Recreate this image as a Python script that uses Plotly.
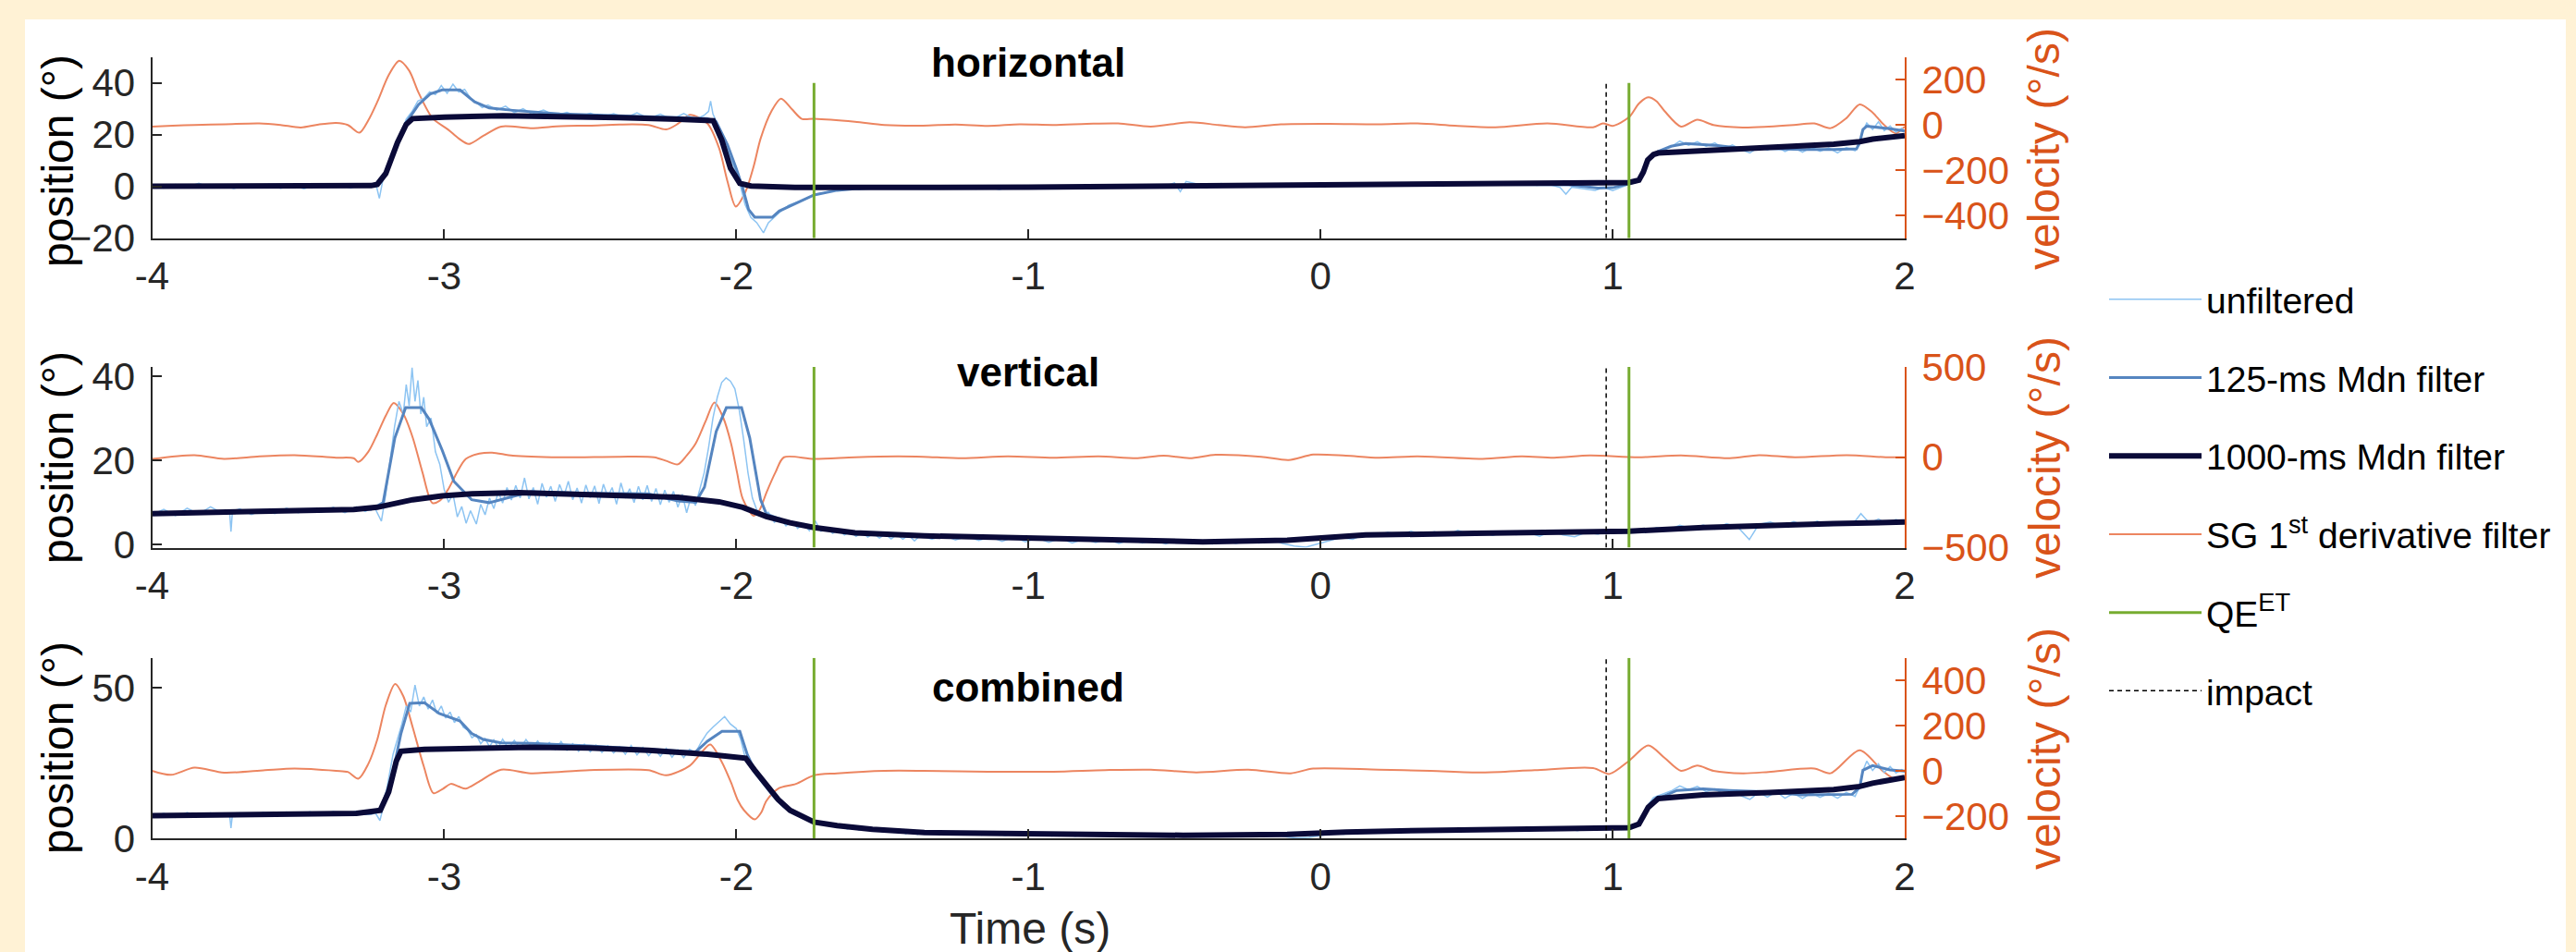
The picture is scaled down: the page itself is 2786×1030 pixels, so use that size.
import plotly.graph_objects as go

# ---------------- data ----------------
time_ticks = [-4, -3, -2, -1, 0, 1, 2]
qe_times = [-1.734, 1.056]
impact_time = 0.978

# ---- horizontal panel ----
hor_t_raw = [-4.00, -3.96, -3.92, -3.88, -3.84, -3.80, -3.76, -3.72, -3.68, -3.64, -3.60, -3.56, -3.52, -3.48, -3.44, -3.40,
             -3.36, -3.32, -3.28, -3.25, -3.235, -3.222, -3.21, -3.19, -3.17, -3.15, -3.13, -3.11, -3.09, -3.07, -3.05, -3.03,
             -3.01, -2.99, -2.97, -2.95, -2.93, -2.91, -2.89, -2.87, -2.85, -2.82, -2.79, -2.76, -2.73, -2.70, -2.66, -2.62,
             -2.58, -2.54, -2.50, -2.46, -2.42, -2.38, -2.34, -2.30, -2.26, -2.22, -2.18, -2.14, -2.11, -2.095, -2.088, -2.08,
             -2.07, -2.05, -2.03, -2.01, -1.99, -1.97, -1.95, -1.93, -1.907, -1.89, -1.87, -1.85, -1.82, -1.79, -1.76, -1.73,
             -1.70, -1.66, -1.62, -1.58, -1.54, -1.50, -1.46, -1.42, -1.38, -1.34, -1.30, -1.26, -1.22, -1.18, -1.14, -1.10,
             -1.06, -1.02, -0.98, -0.94, -0.90, -0.86, -0.82, -0.78, -0.74, -0.70, -0.66, -0.62, -0.58, -0.54, -0.50, -0.48,
             -0.46, -0.42, -0.38, -0.34, -0.30, -0.26, -0.22, -0.18, -0.14, -0.10, -0.06, -0.02, 0.02, 0.06, 0.10, 0.14,
             0.18, 0.22, 0.26, 0.30, 0.34, 0.38, 0.42, 0.46, 0.50, 0.54, 0.58, 0.62, 0.66, 0.70, 0.74, 0.78,
             0.82, 0.84, 0.86, 0.90, 0.94, 0.97, 1.00, 1.03, 1.056, 1.08, 1.10, 1.12, 1.14, 1.17, 1.20, 1.23,
             1.26, 1.29, 1.32, 1.35, 1.38, 1.41, 1.44, 1.47, 1.50, 1.53, 1.56, 1.59, 1.62, 1.65, 1.68, 1.71,
             1.74, 1.77, 1.80, 1.83, 1.845, 1.855, 1.87, 1.89, 1.91, 1.93, 1.95, 1.97, 1.99, 2.00]
hor_raw = [0.2, -0.6, 0.8, -0.3, 1.2, -0.5, 0.4, -0.8, 0.6, -0.2, 0.9, -0.7, 0.3, -0.9, 0.5, -0.4,
           0.7, -0.6, 1.0, -0.2, 1.5, -4.6, 2.5, 8, 14, 20, 26, 29, 33, 34, 36.5, 35.5,
           39, 36, 39.5, 36.5, 37.5, 34, 32.5, 30.5, 31.5, 29.5, 31, 28.5, 30, 28, 29.5, 27.3,
           28.6, 26.9, 28.3, 26.8, 28.1, 26.5, 28.4, 26.3, 27.9, 25.9, 28.2, 25.8, 27.5, 29, 33, 28,
           25.5, 19, 14, 8, 2, -7, -12, -14, -17.9, -14, -12, -9.8, -7.2, -6.0, -4.8, -3.0,
           -2.4, -1.3, -0.2, -1.2, 0.1, -0.9, -0.1, -0.8, 0.2, -0.9, 0.0, -0.6, 0.3, -1.0, -0.2, -1.2,
           -0.1, -0.8, 0.1, -0.9, 0.0, -0.7, 0.2, -0.5, 0.4, -0.4, 0.3, -0.3, 0.5, -0.2, 1.4, -2.0,
           1.9, 0.9, 0.2, 1.1, 0.1, 0.9, -0.1, 1.0, 0.2, 1.1, 0.3, 1.0, 0.4, 1.2, 0.3, 1.1,
           0.4, 1.3, 0.5, 1.4, 0.5, 1.2, 0.4, 1.3, 0.6, 1.4, 0.5, 1.3, 0.6, 1.2, 0.4, 0.9,
           -0.4, -3.0, -0.3, -0.9, -1.5, -0.4, -1.6, -0.3, 0.8, 1.5, 4.5, 10, 12.5, 14.2, 15.3, 17.5,
           15.9, 17.3, 15.5, 16.8, 14.6, 16.0, 14.2, 13.0, 15.2, 14.0, 15.6, 13.5, 15.0, 13.2, 15.1, 13.6,
           14.9, 13.0, 15.0, 13.8, 16, 21, 24.5, 22, 25, 21.5, 23.4, 21, 22.5, 21.2]

hor_t_mdn125 = [-4.0, -3.5, -3.25, -3.229, -3.2, -3.16, -3.128, -3.088, -3.047, -3.007, -2.946, -2.925, -2.896, -2.846,
                -2.765, -2.604, -2.4, -2.2, -2.1, -2.069, -2.03, -2.0, -1.978, -1.958, -1.937, -1.877, -1.853, -1.796,
                -1.734, -1.655, -1.594, -1.5, -1.36, -1.0, -0.5, 0.0, 0.5, 0.85, 0.95, 1.0, 1.056, 1.09, 1.105, 1.12,
                1.14, 1.156, 1.2, 1.25, 1.31, 1.36, 1.42, 1.534, 1.65, 1.757, 1.835, 1.846, 1.857, 1.87, 1.9, 1.95, 2.0]
hor_mdn125 = [0.1, 0.0, 0.3, 0.8, 5, 17, 25, 31.6, 35.8, 37.3, 37.3, 35.5, 32.7, 30.3,
              29.4, 28.0, 27.4, 26.6, 26.2, 25.0, 16, 6.9, -0.6, -8.9, -11.9, -11.9, -9.5, -6.5,
              -3.3, -1.5, -0.9, -0.5, -0.4, -0.3, 0.1, 0.6, 0.9, 0.6, -0.6, -0.5, 1.0, 2.4, 5.5, 10.2,
              12.3, 13.5, 15.5, 16.6, 16.3, 15.8, 15.0, 14.6, 14.3, 14.3, 14.5, 17, 22, 23.3, 23.0, 22.3, 21.4]

hor_t_mdn1000 = [-4.0, -3.5, -3.25, -3.229, -3.2, -3.16, -3.13, -3.108, -3.0, -2.8, -2.6, -2.4, -2.2, -2.079, -2.05,
                 -2.02, -1.988, -1.95, -1.8, -1.6, -1.36, -1.0, -0.5, 0.0, 0.5, 0.978, 1.056, 1.09, 1.105, 1.12, 1.14,
                 1.156, 1.31, 1.534, 1.757, 1.846, 1.89, 2.0]
hor_mdn1000 = [0.1, 0.0, 0.3, 0.8, 5, 17, 24, 26.2, 26.8, 27.3, 27.2, 26.6, 26.0, 25.4, 18,
               7, 1.2, 0.2, -0.4, -0.6, -0.4, -0.3, 0.1, 0.6, 0.9, 1.1, 1.5, 2.4, 5.5, 10.2, 12.3,
               12.9, 13.7, 15.1, 16.3, 17.3, 18.3, 19.6]

hor_t_vel = [-4.0, -3.93, -3.855, -3.75, -3.633, -3.56, -3.491, -3.43, -3.37, -3.33, -3.29, -3.26, -3.229, -3.19, -3.154,
             -3.12, -3.088, -3.04, -2.987, -2.95, -2.916, -2.866, -2.805, -2.704, -2.6, -2.503, -2.4, -2.301, -2.24, -2.2,
             -2.159, -2.099, -2.059, -2.03, -2.002, -1.968, -1.94, -1.917, -1.88, -1.847, -1.81, -1.776, -1.734, -1.594,
             -1.493, -1.361, -1.25, -1.138, -1.03, -0.915, -0.8, -0.693, -0.581, -0.448, -0.35, -0.258, -0.136, 0.03,
             0.198, 0.332, 0.46, 0.599, 0.777, 0.933, 0.967, 1.0, 1.056, 1.09, 1.122, 1.15, 1.178, 1.234, 1.29, 1.345,
             1.445, 1.534, 1.62, 1.69, 1.746, 1.8, 1.846, 1.89, 1.924, 1.969, 2.0]
hor_vel = [-7, -3, 0, 3, 7, 0, -11, 2, 9, 0, -34, 20, 102, 220, 283,
           240, 143, 30, -20, -60, -84, -48, -7, -14, -5, -3, 2, 0, -20, 5,
           45, 7, -102, -250, -360, -293, -180, -61, 60, 116, 70, 27, 27, 14,
           0, -3, 2, -4, 3, 0, 5, 7, -7, 12, 0, -10, 3, 5,
           3, 7, -3, -10, 7, -10, 7, -4, 34, 95, 122, 105, 61, -7, 23, 0,
           -11, -7, 0, 7, -14, 30, 91, 55, 7, -37, -7]

# ---- vertical panel ----
ver_t_raw = [-4.00, -3.96, -3.92, -3.88, -3.84, -3.80, -3.76, -3.735, -3.73, -3.725, -3.70, -3.66, -3.62, -3.58, -3.54,
             -3.50, -3.46, -3.42, -3.38, -3.34, -3.30, -3.27, -3.24, -3.215, -3.20, -3.185, -3.17, -3.155, -3.14, -3.13,
             -3.12, -3.11, -3.10, -3.09, -3.08, -3.07, -3.06, -3.045, -3.03, -3.015, -3.00, -2.985, -2.97, -2.955, -2.94,
             -2.925, -2.91, -2.89, -2.875, -2.86, -2.845, -2.83, -2.815, -2.80, -2.785, -2.77, -2.755, -2.74, -2.725,
             -2.71, -2.695, -2.68, -2.665, -2.65, -2.635, -2.62, -2.605, -2.59, -2.575, -2.56, -2.545, -2.53, -2.515,
             -2.50, -2.485, -2.47, -2.455, -2.44, -2.425, -2.41, -2.395, -2.38, -2.365, -2.35, -2.335, -2.32, -2.305,
             -2.29, -2.275, -2.26, -2.245, -2.23, -2.215, -2.20, -2.185, -2.17, -2.155, -2.14, -2.125, -2.11, -2.095,
             -2.08, -2.065, -2.05, -2.035, -2.02, -2.005, -1.99, -1.975, -1.96, -1.945, -1.93, -1.91, -1.89, -1.87,
             -1.85, -1.83, -1.81, -1.79, -1.77, -1.75, -1.73, -1.71, -1.69, -1.67, -1.65, -1.63, -1.61, -1.59, -1.57,
             -1.55, -1.53, -1.51, -1.49, -1.47, -1.45, -1.43, -1.41, -1.39, -1.37, -1.33, -1.29, -1.25, -1.21, -1.17,
             -1.13, -1.09, -1.05, -1.01, -0.97, -0.93, -0.89, -0.85, -0.81, -0.77, -0.73, -0.69, -0.65, -0.61, -0.57,
             -0.53, -0.49, -0.45, -0.41, -0.37, -0.33, -0.29, -0.25, -0.21, -0.17, -0.13, -0.09, -0.05, -0.01, 0.03,
             0.07, 0.11, 0.15, 0.19, 0.23, 0.27, 0.31, 0.35, 0.39, 0.43, 0.47, 0.51, 0.55, 0.59, 0.63, 0.67, 0.71,
             0.75, 0.79, 0.83, 0.87, 0.91, 0.95, 0.99, 1.03, 1.07, 1.11, 1.15, 1.19, 1.23, 1.27, 1.31, 1.35, 1.39,
             1.43, 1.468, 1.50, 1.54, 1.58, 1.62, 1.66, 1.70, 1.74, 1.78, 1.82, 1.85, 1.88, 1.91, 1.94, 1.97, 2.00]
ver_raw = [7.0, 8.3, 6.8, 8.6, 7.2, 8.9, 7.4, 8.1, 3.0, 7.8, 8.4, 7.1, 8.2, 7.3, 8.6,
           7.5, 8.4, 7.6, 8.8, 7.5, 8.9, 7.8, 9.0, 5.5, 12, 20, 28, 34, 31, 38,
           33, 42, 34, 39, 31, 35, 28, 30, 22, 19, 13, 10, 12, 6.5, 9,
           5, 8, 4.8, 9.5, 7, 11, 8.5, 12.5, 9.8, 13.5, 10.5, 14, 11, 15.8,
           10.8, 13.5, 9.5, 14.5, 11.2, 13.8, 10.2, 14.2, 11.5, 15, 10.6, 13.4, 9.8, 14.1,
           11.1, 13.9, 9.7, 14.3, 11.3, 13.5, 9.5, 14.6, 11.0, 13.2, 9.9, 13.8, 10.6, 14.0,
           10.2, 13.3, 9.4, 12.9, 10.0, 12.6, 8.8, 11.9, 7.5, 11.3, 9.2, 13, 17, 23,
           30, 35, 38.5, 39.6, 38.8, 37, 32, 25, 17, 11, 8.2, 6.9, 7.6, 5.2,
           6.3, 4.4, 5.5, 3.8, 4.9, 3.2, 5.6, 3.1, 3.9, 2.6, 3.5, 2.2, 3.0, 1.9, 2.8,
           1.7, 2.6, 1.5, 2.4, 1.3, 2.3, 1.2, 2.2, 0.8, 2.1, 1.2, 2.2, 1.0, 1.9, 0.9,
           1.8, 0.7, 1.7, 0.6, 1.5, 0.5, 1.4, 0.3, 1.3, 0.4, 1.2, 0.2, 1.1, 0.3, 1.0,
           0.1, 1.1, 0.2, 0.9, 0.1, 1.0, 0.2, 0.8, 0.3, 1.2, 0.2, -0.4, -0.7, 0.1, 0.9,
           1.6, 1.2, 2.4, 2.0, 2.9, 2.2, 3.1, 2.3, 3.0, 2.1, 3.3, 2.4, 2.9, 2.1, 3.0, 2.3, 2.8,
           1.9, 3.1, 2.2, 1.8, 2.9, 2.4, 3.3, 2.6, 3.5, 2.8, 4.0, 3.4, 4.5, 3.7, 4.6, 3.6, 4.9,
           4.0, 1.1, 4.7, 5.3, 4.2, 5.4, 4.3, 5.5, 4.5, 5.2, 4.6, 7.3, 5.0, 6.0, 4.8, 5.9, 5.2]

ver_t_mdn125 = [-4.0, -3.512, -3.25, -3.209, -3.169, -3.132, -3.078, -3.051, -3.007, -2.967, -2.906, -2.846, -2.785,
                -2.704, -2.503, -2.301, -2.2, -2.139, -2.109, -2.069, -2.034, -1.982, -1.954, -1.917, -1.897, -1.816,
                -1.734, -1.594, -1.356, -1.0, -0.693, -0.403, -0.114, 0.154, 0.53, 0.866, 1.056, 1.31, 1.535, 1.757, 2.0]
ver_mdn125 = [7.3, 8.0, 8.3, 9.9, 25.3, 32.5, 32.5, 29.7, 22.4, 15, 10.6, 9.9, 11,
              12.5, 12.1, 12.0, 10.3, 10.0, 13.6, 26.8, 32.5, 32.5, 25.3, 10.6, 7.2, 5.1,
              4.0, 2.7, 2.0, 1.5, 0.95, 0.6, 0.9, 2.2, 2.6, 2.8, 3.1, 4.0, 4.6, 4.9, 5.4]

ver_t_mdn1000 = [-4.0, -3.713, -3.512, -3.31, -3.229, -3.108, -3.007, -2.906, -2.745, -2.604, -2.402, -2.2, -2.059,
                 -1.978, -1.897, -1.816, -1.734, -1.594, -1.356, -1.0, -0.693, -0.403, -0.114, 0.154, 0.53, 0.866,
                 1.056, 1.31, 1.535, 1.757, 2.0]
ver_mdn1000 = [7.3, 7.7, 8.0, 8.3, 8.8, 10.6, 11.5, 12.0, 12.3, 12.0, 11.7, 11.2, 10.1,
               8.8, 6.6, 5.1, 4.0, 2.7, 2.0, 1.5, 0.95, 0.6, 0.95, 2.2, 2.6, 2.8,
               3.1, 4.0, 4.6, 4.9, 5.3]

ver_t_vel = [-4.0, -3.855, -3.754, -3.633, -3.512, -3.37, -3.31, -3.294, -3.26, -3.229, -3.2, -3.173, -3.14, -3.108,
             -3.075, -3.041, -3.015, -2.987, -2.955, -2.926, -2.88, -2.836, -2.765, -2.603, -2.402, -2.281, -2.24,
             -2.2, -2.17, -2.139, -2.105, -2.075, -2.045, -2.018, -1.998, -1.978, -1.941, -1.92, -1.897, -1.865,
             -1.837, -1.734, -1.594, -1.45, -1.36, -1.227, -1.071, -0.915, -0.759, -0.626, -0.537, -0.448, -0.359,
             -0.203, -0.109, -0.025, 0.087, 0.198, 0.332, 0.555, 0.688, 0.8, 0.922, 1.089, 1.234, 1.401, 1.501,
             1.624, 1.802, 1.935, 2.0]
ver_vel = [-9, 12, -9, 5, 12, -2, -5, -26, 30, 128, 230, 301, 240, 110,
           -80, -252, -240, -179, -80, -9, 20, 26, 9, 0, 3, 0, -20,
           -39, 10, 77, 200, 303, 220, 77, -80, -230, -323, -290, -196, -80,
           0, -9, 0, 5, 3, -5, 5, -2, 5, -5, 9, -5, 14,
           3, -15, 15, 9, -2, 5, -9, 5, -2, 10, 0, 10, -5, 12,
           0, 12, 0, 0]

# ---- combined panel ----
com_t_raw = [-4.00, -3.96, -3.92, -3.88, -3.84, -3.80, -3.76, -3.735, -3.73, -3.725, -3.70, -3.66, -3.62, -3.58, -3.54,
             -3.50, -3.46, -3.42, -3.38, -3.34, -3.30, -3.27, -3.24, -3.22, -3.205, -3.19, -3.175, -3.16, -3.145, -3.13,
             -3.115, -3.10, -3.085, -3.07, -3.055, -3.04, -3.025, -3.01, -2.995, -2.98, -2.965, -2.95, -2.935, -2.92,
             -2.905, -2.89, -2.875, -2.86, -2.845, -2.83, -2.815, -2.80, -2.78, -2.76, -2.74, -2.72, -2.70, -2.68,
             -2.66, -2.64, -2.62, -2.60, -2.58, -2.56, -2.54, -2.52, -2.50, -2.48, -2.46, -2.44, -2.42, -2.40, -2.38,
             -2.36, -2.34, -2.32, -2.30, -2.28, -2.26, -2.24, -2.22, -2.20, -2.18, -2.16, -2.14, -2.12, -2.10, -2.08,
             -2.06, -2.04, -2.02, -2.00, -1.985, -1.97, -1.955, -1.94, -1.92, -1.90, -1.88, -1.86, -1.84, -1.82, -1.80,
             -1.78, -1.76, -1.74, -1.72, -1.70, -1.68, -1.66, -1.64, -1.62, -1.60, -1.58, -1.56, -1.54, -1.52, -1.50,
             -1.48, -1.46, -1.44, -1.42, -1.40, -1.38, -1.36, -1.32, -1.28, -1.24, -1.20, -1.16, -1.12, -1.08, -1.04,
             -1.00, -0.96, -0.92, -0.88, -0.84, -0.80, -0.76, -0.72, -0.68, -0.64, -0.60, -0.56, -0.52, -0.48, -0.44,
             -0.40, -0.36, -0.32, -0.28, -0.24, -0.20, -0.16, -0.12, -0.08, -0.04, 0.00, 0.04, 0.08, 0.12, 0.16, 0.20,
             0.24, 0.28, 0.32, 0.36, 0.40, 0.44, 0.48, 0.52, 0.56, 0.60, 0.64, 0.68, 0.72, 0.76, 0.80, 0.84, 0.88,
             0.92, 0.96, 1.00, 1.03, 1.056, 1.08, 1.10, 1.12, 1.14, 1.17, 1.20, 1.23, 1.26, 1.29, 1.32, 1.35, 1.38,
             1.41, 1.44, 1.47, 1.50, 1.53, 1.56, 1.59, 1.62, 1.65, 1.68, 1.71, 1.74, 1.77, 1.80, 1.83, 1.845, 1.855,
             1.87, 1.89, 1.91, 1.93, 1.95, 1.97, 1.99, 2.00]
com_raw = [7.2, 8.4, 7.0, 8.7, 7.3, 8.5, 7.5, 8.2, 3.5, 7.9, 8.5, 7.4, 8.7, 7.6, 8.8,
           7.7, 8.9, 7.8, 9.0, 7.9, 9.1, 8.0, 9.2, 6.0, 12, 20, 28, 33, 38, 44,
           42, 51, 44, 47, 43, 46, 41.5, 44, 40, 42, 38.5, 40.5, 37, 36,
           33.5, 34.5, 31.5, 33.2, 30.5, 32.8, 30.2, 33.0, 30.0, 32.6, 29.9, 32.9, 30.2, 32.4,
           29.8, 31.9, 29.5, 32.2, 29.3, 31.5, 29.0, 31.3, 28.8, 31.0, 28.6, 30.8, 28.4, 30.5, 28.0,
           30.9, 27.8, 30.2, 27.5, 29.8, 27.3, 30.0, 27.0, 29.5, 26.9, 29.6, 28.5, 32, 35, 37,
           38.8, 40.5, 38, 36.5, 33, 27, 24.5, 22, 19.5, 17, 14.5, 12.5, 10.5, 9.2, 8.0,
           7.1, 6.4, 5.6, 5.2, 4.6, 4.5, 3.8, 4.2, 3.2, 3.9, 2.8, 3.5, 2.6, 3.3, 2.3,
           3.1, 2.1, 3.0, 1.6, 2.7, 1.4, 2.6, 1.5, 2.4, 1.3, 2.2, 1.2, 2.1, 1.0, 2.0,
           1.1, 1.9, 0.9, 1.8, 0.8, 1.7, 0.9, 1.6, 0.8, 1.7, 0.7, 1.5, 0.8, 1.4, 0.6,
           1.5, 0.7, 1.3, 0.8, 1.5, 0.9, 1.4, 0.6, 0.2, 0.4, 1.0, 1.8, 1.5, 2.5, 2.0, 2.8,
           2.3, 3.0, 2.4, 3.2, 2.6, 3.3, 2.5, 3.1, 2.7, 3.4, 2.6, 3.2, 2.5, 3.5, 2.7, 3.3, 2.6,
           3.6, 2.9, 3.8, 3.0, 3.9, 4.6, 7.5, 11, 13.6, 14.8, 15.8, 17.5, 16.2, 17.3, 15.6, 16.5, 14.7,
           16.0, 14.2, 13.0, 15.3, 13.8, 15.6, 13.4, 15.0, 13.3, 15.2, 13.7, 15.0, 13.4, 15.3, 14.0, 17, 22,
           25.7, 22.6, 24.8, 22.0, 23.9, 21.8, 22.9, 22.0]

com_t_mdn125 = [-4.0, -3.5, -3.25, -3.219, -3.18, -3.148, -3.118, -3.068, -3.017, -2.946, -2.906, -2.866, -2.805,
                -2.704, -2.503, -2.301, -2.139, -2.099, -2.049, -1.988, -1.962, -1.937, -1.897, -1.857, -1.816, -1.734,
                -1.655, -1.534, -1.356, -1.0, -0.47, -0.114, 0.087, 0.42, 0.866, 1.056, 1.09, 1.122, 1.156, 1.22, 1.31,
                1.4, 1.535, 1.646, 1.82, 1.846, 1.857, 1.89, 1.95, 2.0]
com_mdn125 = [7.6, 8.0, 8.3, 9.4, 20, 34.9, 44.9, 45.1, 41.5, 39, 34.9, 32.9, 31.8,
              31.6, 30.8, 29.6, 28.8, 32.3, 35.6, 35.6, 27.8, 22.7, 17.6, 13, 9.4, 5.5,
              4.3, 3.1, 2.0, 1.5, 1.1, 1.4, 2.2, 2.8, 3.2, 3.6, 4.8, 10.4, 13.3, 16.0, 16.5,
              16.0, 15.5, 14.5, 14.7, 17, 22.7, 24.2, 22.8, 22.4]

com_t_mdn1000 = [-4.0, -3.5, -3.3, -3.219, -3.19, -3.164, -3.148, -3.068, -2.906, -2.704, -2.503, -2.301, -2.099,
                 -1.968, -1.937, -1.897, -1.857, -1.816, -1.734, -1.655, -1.534, -1.356, -1.0, -0.47, -0.114, 0.087,
                 0.42, 0.866, 1.056, 1.09, 1.122, 1.156, 1.31, 1.535, 1.757, 1.846, 1.89, 2.0]
com_mdn1000 = [7.6, 8.0, 8.4, 9.4, 15.5, 25.7, 29.0, 29.6, 30.1, 30.3, 30.1, 29.3, 28.0,
               26.7, 22.7, 17.6, 13.0, 9.4, 5.5, 4.3, 3.1, 2.0, 1.5, 1.1, 1.4, 2.2,
               2.8, 3.2, 3.6, 4.8, 10.4, 13.3, 14.5, 15.3, 16.3, 17.3, 18.4, 20.3]

com_t_vel = [-4.0, -3.935, -3.855, -3.754, -3.613, -3.512, -3.37, -3.33, -3.294, -3.26, -3.229, -3.2, -3.168, -3.14,
             -3.108, -3.07, -3.037, -3.005, -2.977, -2.95, -2.926, -2.886, -2.805, -2.704, -2.503, -2.301, -2.24,
             -2.159, -2.12, -2.089, -2.05, -2.018, -1.995, -1.974, -1.937, -1.915, -1.897, -1.857, -1.796, -1.734,
             -1.655, -1.493, -1.361, -1.138, -0.915, -0.737, -0.581, -0.425, -0.247, -0.102, -0.025, 0.198, 0.376,
             0.555, 0.733, 0.933, 0.989, 1.056, 1.122, 1.178, 1.234, 1.29, 1.345, 1.445, 1.534, 1.69, 1.746, 1.846,
             1.924, 1.969, 2.0]
com_vel = [0, -18, 14, -8, 3, 10, 0, -5, -35, 30, 139, 290, 384, 330,
           193, 20, -99, -80, -58, -70, -79, -52, 5, -11, 3, 3, -20,
           23, 80, 116, 40, -52, -130, -174, -215, -185, -133, -79, -58, -20,
           -11, 0, 0, -4, -4, 3, 5, -7, 5, -11, 10, 5, 0,
           -7, 3, 12, -14, 44, 112, 57, 0, 23, 0, -11, -5, 10, -11, 91,
           0, -38, -24]

# axis settings per panel
panel_names = ["horizontal", "vertical", "combined"]
pos_ranges = [[-20, 50], [-0.8, 42.2], [0, 60]]
vel_ranges = [[-500, 300], [-500, 500], [-300, 500]]
pos_ticks = [[-20, 0, 20, 40], [0, 20, 40], [0, 50]]
vel_ticks = [[-400, -200, 0, 200], [-500, 0, 500], [-200, 0, 200, 400]]
marker_tops = [40, 42.2, 60]
marker_bottoms = [-20, -0.8, 0]

# ---------------- styling ----------------
W, H = 2786, 1030
CREAM = "#FFF2D5"
ORANGE_AX = "#D95319"
C_RAW = "#8DC4F2"
C_125 = "#5585C0"
C_1000 = "#0A0A38"
C_SG = "#EC8560"
C_QE = "#77AC30"
AXC = "#262626"
FONT = "Liberation Sans, Arial, sans-serif"

def px_x(p):
    return p / W

def px_y(p):
    return 1 - p / H

x_dom = [px_x(164.5), px_x(2060)]
y_doms = [[px_y(257.7), px_y(61.7)], [px_y(592.5), px_y(397)], [px_y(907.3), px_y(711.7)]]

panels = [
    (hor_t_raw, hor_raw, hor_t_mdn125, hor_mdn125, hor_t_mdn1000, hor_mdn1000, hor_t_vel, hor_vel),
    (ver_t_raw, ver_raw, ver_t_mdn125, ver_mdn125, ver_t_mdn1000, ver_mdn1000, ver_t_vel, ver_vel),
    (com_t_raw, com_raw, com_t_mdn125, com_mdn125, com_t_mdn1000, com_mdn1000, com_t_vel, com_vel),
]

fig = go.Figure()
layout = {}
for i, (tr, r, t125, m125, t1000, m1000, tv, vel) in enumerate(panels):
    xn = "x" if i == 0 else f"x{i + 1}"
    yv = "y" if i == 0 else f"y{2 * i + 1}"   # velocity (base, right)
    yp = f"y{2 * i + 2}"                     # position (overlay, left)
    first = i == 0
    fig.add_trace(go.Scatter(x=tv, y=vel, mode="lines", xaxis=xn, yaxis=yv,
                             line=dict(color=C_SG, width=2, shape="spline", smoothing=0.8),
                             name="SG 1<sup>st</sup> derivative filter", legendgroup="g4", legendrank=4,
                             showlegend=first, hoverinfo="skip"))
    fig.add_trace(go.Scatter(x=tr, y=r, mode="lines", xaxis=xn, yaxis=yp,
                             line=dict(color=C_RAW, width=1.5), name="unfiltered", legendgroup="g1",
                             legendrank=1, showlegend=first, hoverinfo="skip"))
    fig.add_trace(go.Scatter(x=t125, y=m125, mode="lines", xaxis=xn, yaxis=yp,
                             line=dict(color=C_125, width=3), name="125-ms Mdn filter", legendgroup="g2",
                             legendrank=2, showlegend=first, hoverinfo="skip"))
    fig.add_trace(go.Scatter(x=t1000, y=m1000, mode="lines", xaxis=xn, yaxis=yp,
                             line=dict(color=C_1000, width=6), name="1000-ms Mdn filter", legendgroup="g3",
                             legendrank=3, showlegend=first, hoverinfo="skip"))
    fig.add_trace(go.Scatter(x=[impact_time, impact_time], y=[marker_bottoms[i], marker_tops[i]], mode="lines",
                             xaxis=xn, yaxis=yp, line=dict(color="black", width=1.5, dash="5px,4px"),
                             name="impact", legendgroup="g6", legendrank=6, showlegend=first, hoverinfo="skip"))
    for k, q in enumerate(qe_times):
        fig.add_trace(go.Scatter(x=[q, q], y=[marker_bottoms[i], marker_tops[i]], mode="lines",
                                 xaxis=xn, yaxis=yp, line=dict(color=C_QE, width=3),
                                 name="QE<sup>ET</sup>", legendgroup="g5", legendrank=5,
                                 showlegend=first and k == 0, hoverinfo="skip"))

    xkey = "xaxis" if i == 0 else f"xaxis{i + 1}"
    yvkey = "yaxis" if i == 0 else f"yaxis{2 * i + 1}"
    ypkey = f"yaxis{2 * i + 2}"
    layout[xkey] = dict(domain=x_dom, range=[-4, 2], anchor=yv, tickmode="array", tickvals=time_ticks,
                        ticktext=[str(v) for v in time_ticks], ticks="inside", ticklen=10, tickwidth=1.5,
                        tickcolor=AXC, showline=True, linecolor=AXC, linewidth=2, showgrid=False,
                        zeroline=False, tickfont=dict(family=FONT, size=42, color=AXC), ticklabelstandoff=3,
                        automargin=False)
    layout[yvkey] = dict(domain=y_doms[i], range=vel_ranges[i], anchor=xn, side="right", tickmode="array",
                         tickvals=vel_ticks[i], ticks="inside", ticklen=10, tickwidth=1.5, tickcolor=ORANGE_AX,
                         showline=True, linecolor=ORANGE_AX, linewidth=2, showgrid=False, zeroline=False,
                         tickfont=dict(family=FONT, size=42, color=ORANGE_AX), ticklabelstandoff=8,
                         automargin=False)
    layout[ypkey] = dict(range=pos_ranges[i], overlaying=yv, anchor=xn, side="left", tickmode="array",
                         tickvals=pos_ticks[i], ticks="inside", ticklen=10, tickwidth=1.5, tickcolor=AXC,
                         showline=True, linecolor=AXC, linewidth=2, showgrid=False, zeroline=False,
                         tickfont=dict(family=FONT, size=42, color=AXC), ticklabelstandoff=8,
                         automargin=False)

ann = []
title_y = [68, 403, 743]
left_lab_y = [174, 495, 809]
right_lab_y = [161, 495, 810]
for i in range(3):
    ann.append(dict(x=px_x(1112), y=px_y(title_y[i]), xref="paper", yref="paper", text=f"<b>{panel_names[i]}</b>",
                    showarrow=False, xanchor="center", yanchor="middle",
                    font=dict(family=FONT, size=44, color="black")))
    ann.append(dict(x=px_x(62), y=px_y(left_lab_y[i]), xref="paper", yref="paper", text="position (°)",
                    textangle=-90, showarrow=False, xanchor="center", yanchor="middle",
                    font=dict(family=FONT, size=48, color="black")))
    ann.append(dict(x=px_x(2211), y=px_y(right_lab_y[i]), xref="paper", yref="paper", text="velocity (°/s)",
                    textangle=-90, showarrow=False, xanchor="center", yanchor="middle",
                    font=dict(family=FONT, size=48, color=ORANGE_AX)))
ann.append(dict(x=px_x(1114), y=px_y(1004), xref="paper", yref="paper", text="Time (s)", showarrow=False,
                xanchor="center", yanchor="middle", font=dict(family=FONT, size=48, color=AXC)))

fig.update_layout(
    template="none",
    width=W, height=H, autosize=False,
    margin=dict(l=0, r=0, t=0, b=0, pad=0, autoexpand=False),
    paper_bgcolor=CREAM, plot_bgcolor="white",
    shapes=[dict(type="rect", xref="paper", yref="paper", x0=px_x(27), x1=px_x(2775), y0=-0.01, y1=px_y(21),
                 fillcolor="white", line=dict(width=0), layer="below")],
    annotations=ann,
    legend=dict(x=px_x(2276), y=px_y(292), xanchor="left", yanchor="top", bgcolor="rgba(0,0,0,0)",
                borderwidth=0, font=dict(family=FONT, size=39, color="black"), traceorder="grouped",
                tracegroupgap=31, itemwidth=100, itemclick=False, itemdoubleclick=False),
    showlegend=True,
    **layout,
)

fig.write_html("out.html", config={"displayModeBar": False},
               post_script="document.body.style.margin='0px';document.body.style.overflow='hidden';"
                           "document.body.style.background='#FFF2D5';")
